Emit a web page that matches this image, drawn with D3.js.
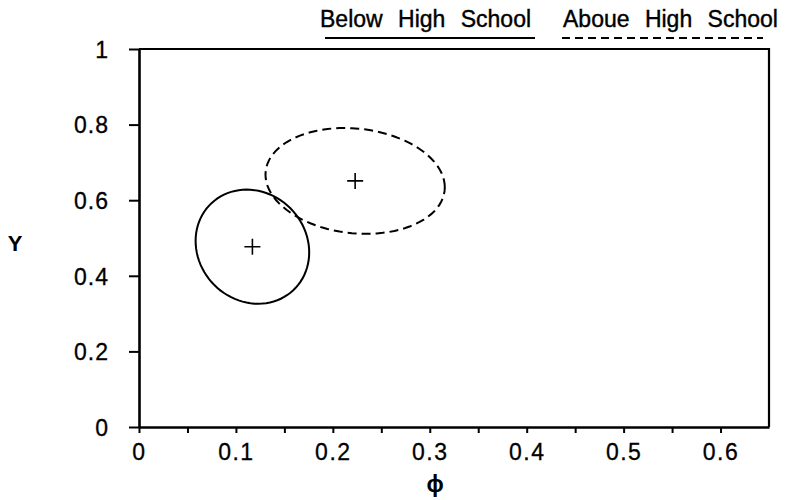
<!DOCTYPE html>
<html>
<head>
<meta charset="utf-8">
<title>Confidence ellipses</title>
<script src="https://d3js.org/d3.v7.min.js"></script>
<style>
  body { margin: 0; background: #fff; }
  svg text { font-family: "Liberation Sans", Arial, sans-serif; fill: #000; }
</style>
</head>
<body>
<div id="chart"></div>
<script>
// groups and their ellipse parameters (data units)
var groups = ["Below High School", "Aboue High School"];
var centerPhi = [0.117, 0.223];
var centerY = [0.477, 0.651];
var spreadPhi = [0.0586, 0.0925];
var spreadY = [0.151, 0.140];
var corr = [-0.10, -0.12];

var xTicks = [0, 0.05, 0.1, 0.15, 0.2, 0.25, 0.3, 0.35, 0.4, 0.45, 0.5, 0.55, 0.6];
var xLabels = ["0", "", "0.1", "", "0.2", "", "0.3", "", "0.4", "", "0.5", "", "0.6"];
var yTicks = [0, 0.2, 0.4, 0.6, 0.8, 1];
var yLabels = ["0", "0.2", "0.4", "0.6", "0.8", "1"];

var width = 799, height = 500;
var margin = {top: 49, right: 30, bottom: 73, left: 139};

var svg = d3.select("#chart").append("svg")
    .attr("width", width)
    .attr("height", height);

var x = d3.scaleLinear().domain([0, 0.65]).range([margin.left, width - margin.right]);
var y = d3.scaleLinear().domain([0, 1]).range([height - margin.bottom, margin.top]);

// frame (top and right)
svg.append("path")
    .attr("d", "M" + x(0) + "," + y(1) + "H" + x(0.65) + "V" + y(0))
    .attr("fill", "none")
    .attr("stroke", "#000")
    .attr("stroke-width", 2.2);

var xAxis = svg.append("g")
    .attr("transform", "translate(0," + y(0) + ")")
    .call(d3.axisBottom(x).tickValues(xTicks)
        .tickFormat(function(d, i) { return xLabels[i]; })
        .tickSize(6).tickPadding(11).tickSizeOuter(0));
xAxis.select(".domain").attr("stroke-width", 2.6);
xAxis.selectAll(".tick line").attr("stroke-width", 2);
xAxis.selectAll("text")
    .attr("font-size", 23)
    .style("letter-spacing", "1.5px")
    .attr("fill", "#000")
    .attr("stroke", "#000").attr("stroke-width", 0.3);

var yAxis = svg.append("g")
    .attr("transform", "translate(" + x(0) + ",0)")
    .call(d3.axisLeft(y).tickValues(yTicks)
        .tickFormat(function(d, i) { return yLabels[i]; })
        .tickSize(10).tickPadding(20).tickSizeOuter(0));
yAxis.select(".domain").attr("stroke-width", 2.6);
yAxis.selectAll(".tick line").attr("stroke-width", 2);
yAxis.selectAll("text")
    .attr("font-size", 23)
    .attr("dy", "0.36em")
    .style("letter-spacing", "1px")
    .attr("fill", "#000")
    .attr("stroke", "#000").attr("stroke-width", 0.3);

// axis titles
svg.append("text")
    .attr("x", 15).attr("y", 251)
    .attr("text-anchor", "middle")
    .style("font-size", "22px")
    .attr("font-weight", "bold")
    .text("Y");

svg.append("text")
    .attr("x", 435).attr("y", 492)
    .attr("text-anchor", "middle")
    .style("font-size", "23px")
    .attr("font-weight", "bold")
    .text("\u03d5");

// ellipses
var steps = d3.range(0, 361, 4).map(function(a) { return a * Math.PI / 180; });
var line = d3.line()
    .x(function(p) { return x(p[0]); })
    .y(function(p) { return y(p[1]); })
    .curve(d3.curveLinearClosed);

groups.forEach(function(g, i) {
    var pts = steps.map(function(t) {
        return [centerPhi[i] + spreadPhi[i] * Math.cos(t),
                centerY[i] + spreadY[i] * (corr[i] * Math.cos(t) + Math.sqrt(1 - corr[i] * corr[i]) * Math.sin(t))];
    });
    svg.append("path")
        .attr("d", line(pts))
        .attr("fill", "none")
        .attr("stroke", "#000")
        .attr("stroke-width", 2)
        .attr("stroke-dasharray", i === 1 ? "9,5" : null);

    var cx = x(centerPhi[i]), cy = y(centerY[i]);
    svg.append("path")
        .attr("d", "M" + (cx - 8) + "," + cy + "h16M" + cx + "," + (cy - 8) + "v16")
        .attr("stroke", "#000")
        .attr("stroke-width", 1.6);
});

// legend
var legendX = [320, 563];
var legendLine = [[325, 535], [562, 763]];
groups.forEach(function(g, i) {
    svg.append("text")
        .attr("x", legendX[i]).attr("y", 27)
        .style("font-size", "23px")
        .style("word-spacing", "9px")
        .attr("stroke", "#000").attr("stroke-width", 0.4)
        .text(g);
    svg.append("line")
        .attr("x1", legendLine[i][0]).attr("x2", legendLine[i][1])
        .attr("y1", 38).attr("y2", 38)
        .attr("stroke", "#000")
        .attr("stroke-width", 2)
        .attr("stroke-dasharray", i === 1 ? "8,5" : null);
});
</script>
</body>
</html>
